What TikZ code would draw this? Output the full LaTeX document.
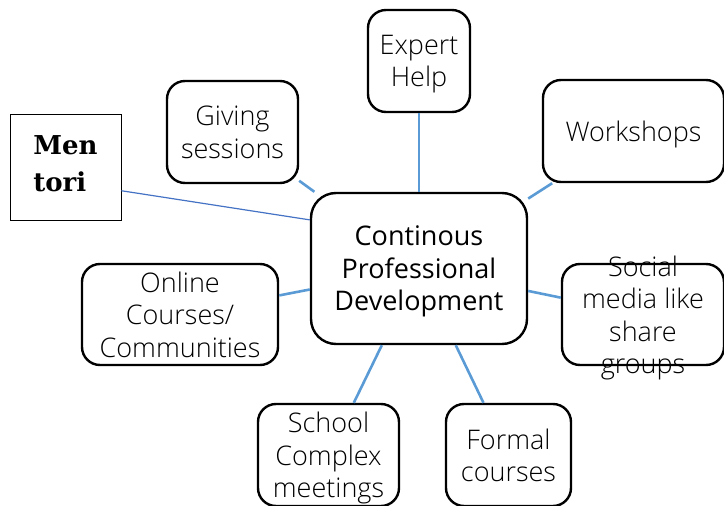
\documentclass[tikz,border=0pt]{standalone}
\usepackage{fontspec}
\setmainfont{Open Sans}[UprightFont={* Light}]
\newfontfamily\hubfont{Open Sans}
\newfontfamily\mentfont{DejaVu Serif}
\definecolor{spoke}{HTML}{5B9BD5}
\definecolor{thinspoke}{HTML}{4472C4}
\tikzset{
    topic/.style={draw,line width=2.4pt,rounded corners=18pt,align=center,
        font=\fontsize{27}{32.5}\selectfont,inner sep=0pt,text depth=0pt},
    spokeline/.style={draw=spoke,line width=2.6pt}
}
\begin{document}
\begin{tikzpicture}[x=1pt,y=-1pt]
\useasboundingbox (0,0) rectangle (724,506);
% hub in the middle
\node[topic,rounded corners=25pt,minimum width=216pt,minimum height=151pt,
    font=\hubfont\fontsize{27}{32.5}\selectfont] (cpd) at (419,268.5)
    {Continous\\Professional\\Development};
% boxes round the hub
\node[topic,minimum width=102pt,minimum height=102pt] (expert) at (419,61) {Expert\\Help};
\node[topic,minimum width=181pt,minimum height=102pt] (workshops) at (633.5,131) {Workshops};
\node[topic,minimum width=131pt,minimum height=102pt] (giving) at (232.5,132) {Giving\\sessions};
\node[topic,minimum width=196pt,minimum height=101pt] (online) at (180,314.5) {Online\\Courses/\\Communities};
\node[topic,minimum width=162pt,minimum height=101pt] (social) at (643,314.5) {};
\node[align=center,font=\fontsize{27}{32.5}\selectfont,text depth=0pt] (socialtext) at (social)
    {Social\\media like\\share\\groups};
\node[topic,minimum width=141pt,minimum height=102pt] (school) at (328.5,455) {School\\Complex\\meetings};
\node[topic,minimum width=125pt,minimum height=102pt] (formal) at (508.5,455) {Formal\\courses};
\node[draw,line width=0.9pt,minimum width=111pt,minimum height=106pt,align=left,text depth=6pt,
    font=\mentfont\bfseries\fontsize{26}{37}\selectfont] (mentori) at (65.5,167) {Men\\tori};
% spokes
\foreach \n in {expert,workshops,giving,online,social,school,formal}
    \draw[spokeline] (cpd) -- (\n);
\draw[thinspoke,line width=1.2pt] (mentori.-23) -- (cpd.156);
\end{tikzpicture}
\end{document}
